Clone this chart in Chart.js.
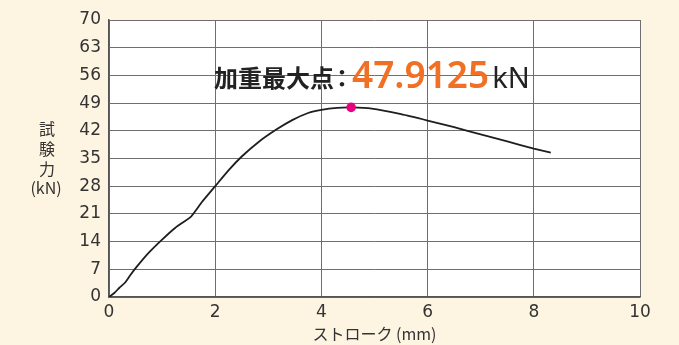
<!DOCTYPE html>
<html>
<head>
<meta charset="utf-8">
<script src="https://cdn.jsdelivr.net/npm/chart.js@4"></script>
<style>
  html, body { margin: 0; padding: 0; background: #fdf4e1; }
  #wrap { width: 679px; height: 345px; }
</style>
</head>
<body>
<div id="wrap"><canvas id="chart" width="679" height="345"></canvas></div>
<script>
// ストローク (mm) / 試験力 (kN)
const stroke = [0, 0.1, 0.2, 0.3, 0.4, 0.52, 0.75, 1.0, 1.25, 1.55, 1.75, 2.0, 2.25, 2.5, 2.8, 3.15, 3.45, 3.75, 4.0, 4.3, 4.56, 4.95, 5.5, 6.0, 6.5, 7.0, 7.5, 8.0, 8.32];
const load = [0, 1.0, 2.4, 3.6, 5.5, 7.6, 11.2, 14.5, 17.5, 20.4, 24.0, 28.0, 32.0, 35.5, 39.0, 42.3, 44.7, 46.5, 47.3, 47.8, 47.9, 47.6, 46.2, 44.6, 42.9, 41.1, 39.3, 37.5, 36.5];
const maxStroke = [4.56];
const maxLoad = [47.9125];
const yTicks = [0, 7, 14, 21, 28, 35, 42, 49, 56, 63, 70];
const xTicks = [0, 2, 4, 6, 8, 10];

const gridColor = '#6f6f6f';
const textColor = '#333333';
const tickFont = '"DejaVu Sans", sans-serif';
const jpFont = '"Noto Sans CJK JP", sans-serif';

const decor = {
    id: 'decor',
    beforeDraw(chart) {
        const { ctx, chartArea: a } = chart;
        ctx.save();
        ctx.fillStyle = '#ffffff';
        ctx.fillRect(a.left, a.top, a.right - a.left, a.bottom - a.top);
        ctx.restore();
    },
    afterDraw(chart) {
        const ctx = chart.ctx;
        ctx.save();
        // y axis title, stacked vertically
        ctx.fillStyle = textColor;
        ctx.textAlign = 'center';
        ctx.textBaseline = 'middle';
        ctx.font = '16px ' + jpFont;
        ['試', '験', '力'].forEach((c, i) => ctx.fillText(c, 47, 129 + i * 20));
        ctx.fillText('(kN)', 46, 188);

        // max load annotation
        ctx.textAlign = 'left';
        ctx.textBaseline = 'alphabetic';
        let x = 214;
        const base = 87;
        ctx.fillStyle = '#222';
        ctx.font = 'bold 24px ' + jpFont;
        const lead = '加重最大点';
        ctx.fillText(lead, x, base);
        x += ctx.measureText(lead).width;
        ctx.fillText('：', x - 4, base);
        x = 352;
        ctx.fillStyle = '#f07125';
        ctx.font = '600 37px "Noto Sans", sans-serif';
        const val = maxLoad[0].toFixed(4);
        ctx.fillText(val, x, base + 1);
        x += ctx.measureText(val).width + 3;
        ctx.fillStyle = '#222';
        ctx.font = '29px "Noto Sans", sans-serif';
        ctx.fillText('kN', x, base + 1);
        ctx.restore();
    }
};

new Chart(document.getElementById('chart'), {
    type: 'scatter',
    data: {
        datasets: [{
            data: stroke.map((s, i) => ({ x: s, y: load[i] })),
            showLine: true,
            borderColor: '#1e1e1e',
            borderWidth: 1.8,
            pointRadius: 0,
            tension: 0.15,
            order: 2
        }, {
            data: maxStroke.map((s, i) => ({ x: s, y: maxLoad[i] })),
            backgroundColor: '#e8007f',
            borderWidth: 0,
            pointRadius: 4.8,
            order: 1
        }]
    },
    options: {
        responsive: false,
        animation: false,
        events: [],
        layout: { padding: { top: 20, right: 39, left: 0, bottom: 0 } },
        plugins: {
            legend: { display: false },
            tooltip: { enabled: false }
        },
        scales: {
            x: {
                type: 'linear',
                min: 0,
                max: 10,
                afterBuildTicks: axis => { axis.ticks = xTicks.map(v => ({ value: v })); },
                afterFit: axis => { axis.height = 48; },
                grid: { color: gridColor, lineWidth: 1, drawTicks: false },
                border: { color: '#555', width: 1.5 },
                ticks: { color: textColor, padding: 5, font: { family: tickFont, size: 17 } },
                title: {
                    display: true,
                    text: 'ストローク (mm)',
                    color: textColor,
                    padding: { top: 0, bottom: 1 },
                    font: { family: jpFont, size: 16 }
                }
            },
            y: {
                min: 0,
                max: 70,
                afterBuildTicks: axis => { axis.ticks = yTicks.map(v => ({ value: v })); },
                afterFit: axis => { axis.width = 109; },
                grid: { color: gridColor, lineWidth: 1, drawTicks: false },
                border: { color: '#555', width: 1.5 },
                ticks: { color: textColor, padding: 8, font: { family: tickFont, size: 17 } }
            }
        }
    },
    plugins: [decor]
});
</script>
</body>
</html>
